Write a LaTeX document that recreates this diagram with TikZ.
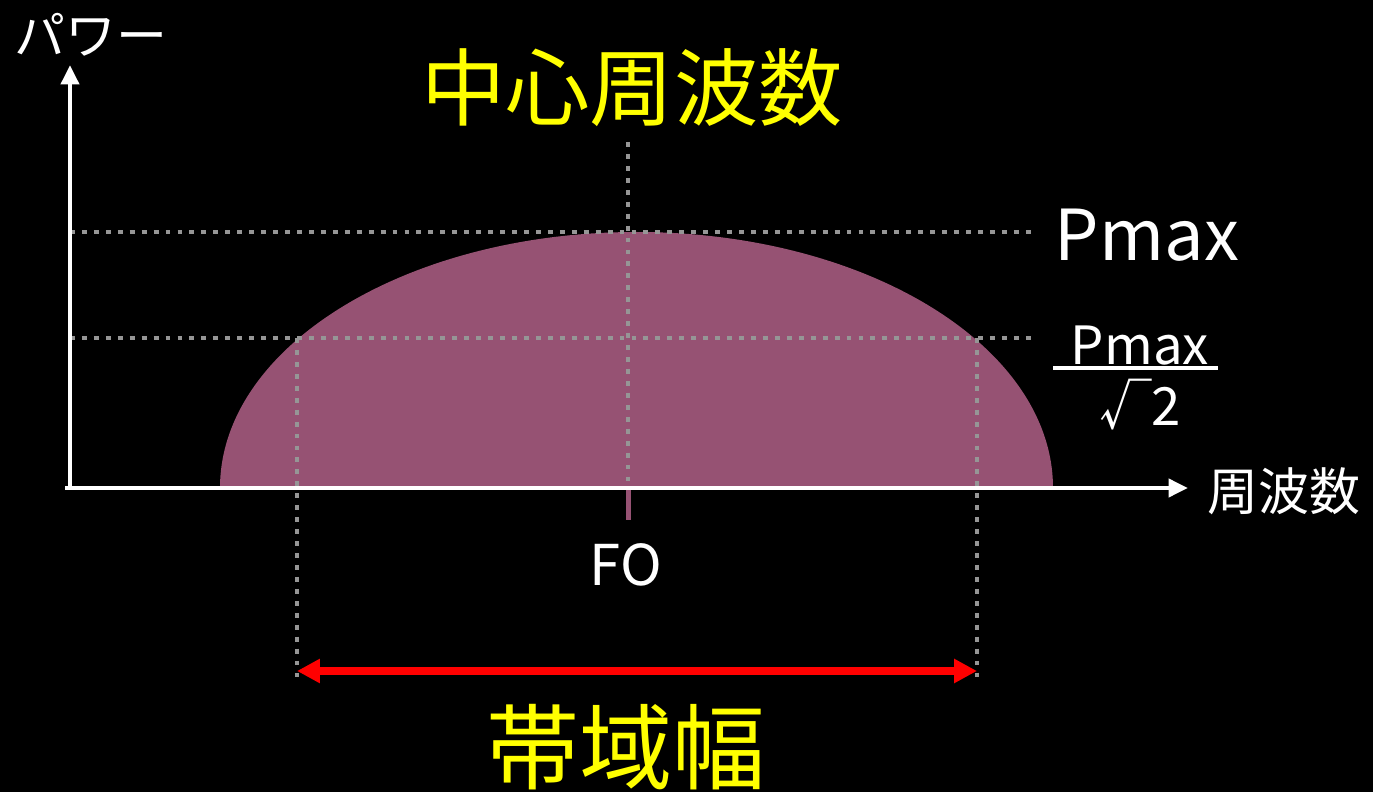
\documentclass[tikz,border=0pt]{standalone}
\usepackage{fontspec}
\setmainfont{Noto Sans CJK JP}
\usetikzlibrary{arrows.meta}

\definecolor{bandfill}{RGB}{150,82,115}
\definecolor{guidegray}{RGB}{150,150,150}
\definecolor{titleyellow}{RGB}{255,255,0}

\tikzset{
  axisline/.style={white, line width=2.8pt, -{Triangle[length=11pt, width=10pt]}},
  guideline/.style={guidegray, line width=2.8pt, dash pattern=on 2.8pt off 4pt},
  labeltext/.style={text=white, inner sep=0pt},
  titletext/.style={text=titleyellow, inner sep=0pt},
}

\begin{document}
\begin{tikzpicture}[x=0.02cm, y=0.02cm]

% Canvas
\useasboundingbox (0,0) rectangle (1373,792);
\fill[black] (0,0) rectangle (1373,792);

% Geometry
\def\yaxis{304}        % height of the frequency axis
\def\ypeak{560}        % Pmax level
\def\yhalf{454}        % Pmax / sqrt(2) level
\def\xlow{297}         % lower band edge
\def\xhigh{977}        % upper band edge

% ── Spectrum hump ───────────────────────────────────────────────────────
\fill[bandfill] (220,\yaxis) arc[start angle=180, end angle=0,
  x radius=416.5, y radius=256] -- cycle;
\fill[bandfill] (625.5,\yaxis) rectangle (630.5,272);

% ── Guide lines ─────────────────────────────────────────────────────────
\coordinate (peakL) at (70,\ypeak);
\coordinate (peakR) at (1035,\ypeak);
\coordinate (halfL) at (70,\yhalf);
\coordinate (halfR) at (1035,\yhalf);
\coordinate (ctrTop) at (628,650);
\coordinate (ctrBot) at (628,\yaxis);
\coordinate (lowTop) at (\xlow,\yhalf);
\coordinate (lowBot) at (\xlow,112);
\coordinate (highTop) at (\xhigh,\yhalf);
\coordinate (highBot) at (\xhigh,112);

\draw[guideline] (peakL) -- (peakR);
\draw[guideline] (halfL) -- (halfR);
\draw[guideline] (ctrTop) -- (ctrBot);
\draw[guideline] (lowTop) -- (lowBot);
\draw[guideline] (highTop) -- (highBot);

% ── Axes ────────────────────────────────────────────────────────────────
\coordinate (origin) at (70,\yaxis);
\coordinate (ytip) at (70,727);
\coordinate (xtip) at (1188,\yaxis);
\draw[axisline] ([xshift=-2.8pt]origin) -- (xtip);
\draw[axisline] (origin) -- (ytip);

\node[labeltext, font=\fontsize{29}{30}\selectfont] (powerlbl) at (91,757) {パワー};
\node[labeltext, anchor=west, font=\fontsize{29}{30}\selectfont] (freqlbl)
  at (1207,301) {周波数};

% ── Level labels ────────────────────────────────────────────────────────
\node[labeltext, font=\fontsize{40}{42}\selectfont] (pmaxlbl) at (1147,557) {Pmax};
\node[labeltext, font=\fontsize{30}{32}\selectfont] (fracnum) at (1140,446) {Pmax};
\node[labeltext, font=\fontsize{30}{32}\selectfont] (fracden) at (1140,387) {√2};
\draw[white, line width=2.8pt] (1053,424) -- (1218,424);

% ── Centre frequency and bandwidth ──────────────────────────────────────
\node[labeltext, font=\fontsize{32}{34}\selectfont] (fzero) at (626,227) {FO};
\node[titletext, font=\fontsize{48}{50}\selectfont] (centerlbl) at (632,704) {中心周波数};

\coordinate (bandL) at (\xlow,121);
\coordinate (bandR) at (\xhigh,121);
\draw[red, line width=4.5pt, {Triangle[length=13pt, width=13pt]}-{Triangle[length=13pt, width=13pt]}]
  (bandL) -- (bandR);
\node[titletext, font=\fontsize{53}{55}\selectfont] (bandlbl) at (626,45) {帯域幅};

\end{tikzpicture}
\end{document}
